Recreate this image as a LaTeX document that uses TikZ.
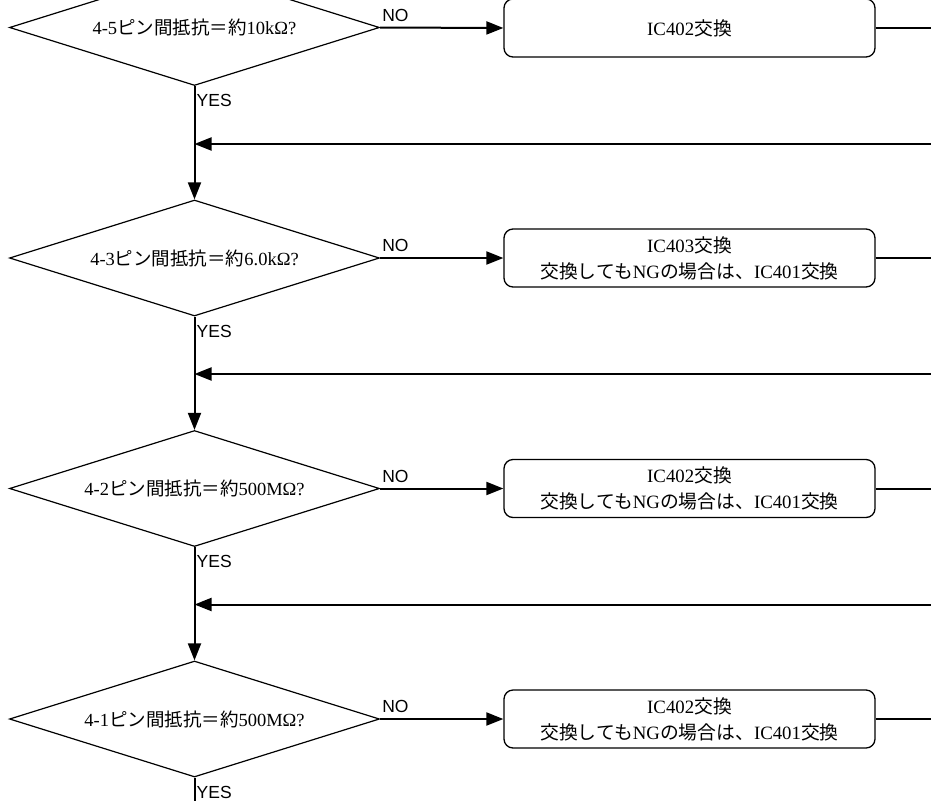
\documentclass[tikz,border=0pt]{standalone}
\usepackage{fontspec}
\setmainfont{Liberation Serif}
\newfontfamily\jp{Noto Sans CJK JP}
\newfontfamily\lblfont{Liberation Sans}
\usetikzlibrary{arrows.meta,shapes.geometric}
\tikzset{
  flow/.style={-{Triangle[length=17pt,width=13pt]},line width=2pt},
  wire/.style={line width=2pt},
  check/.style={diamond,draw,line width=1.2pt,shape aspect=3.2,inner sep=0pt,
    minimum width=370pt,minimum height=116pt,font=\fontsize{18.5}{26}\selectfont},
  fixbox/.style={draw,line width=1.3pt,rounded corners=9pt,minimum width=371pt,
    minimum height=58pt,align=center,font=\fontsize{18.8}{26}\selectfont},
  answer/.style={font=\lblfont\fontsize{17.5}{20}\selectfont,inner sep=2pt}
}

\begin{document}
\begin{tikzpicture}[x=1pt,y=-1pt]
\useasboundingbox (0,0) rectangle (931,801);
\node[check] (d1) at (194.5,27.5) {4-5{\jp ピン間抵抗＝約}10kΩ?};
\node[check] (d2) at (194.5,258) {4-3{\jp ピン間抵抗＝約}6.0kΩ?};
\node[check] (d3) at (194.5,488.5) {4-2{\jp ピン間抵抗＝約}500MΩ?};
\node[check] (d4) at (194.5,719) {4-1{\jp ピン間抵抗＝約}500MΩ?};
\node[fixbox] (f1) at (689.5,28) {IC402{\jp 交換}};
\node[fixbox] (f2) at (689.5,258) {IC403{\jp 交換}\\{\jp 交換しても}NG{\jp の場合は、}IC401{\jp 交換}};
\node[fixbox] (f3) at (689.5,488.5) {IC402{\jp 交換}\\{\jp 交換しても}NG{\jp の場合は、}IC401{\jp 交換}};
\node[fixbox] (f4) at (689.5,719) {IC402{\jp 交換}\\{\jp 交換しても}NG{\jp の場合は、}IC401{\jp 交換}};
% off-page ends
\coordinate (out1) at (931,28);
\coordinate (out2) at (931,258);
\coordinate (out3) at (931,488.5);
\coordinate (out4) at (931,719);
\coordinate (back1) at (931,144);
\coordinate (back2) at (931,374);
\coordinate (back3) at (931,604.5);
\coordinate (end) at (194.5,801);
\foreach \i in {1,2,3,4} {
  \draw[flow] (d\i.east) -- (f\i.west);
  \node[answer,anchor=south west] at ([yshift=4pt]d\i.east) {NO};
  \draw[wire] (f\i.east) -- (out\i);
  \node[answer,anchor=north west] at ([yshift=-6pt]d\i.south) {YES};
}
\foreach \i/\j in {1/2,2/3,3/4} {
  \draw[flow] (d\i.south) -- (d\j.north);
  \draw[flow] (back\i) -- (back\i -| d\i.south);
}
\draw[wire] (d4.south) -- (end);
\end{tikzpicture}
\end{document}
